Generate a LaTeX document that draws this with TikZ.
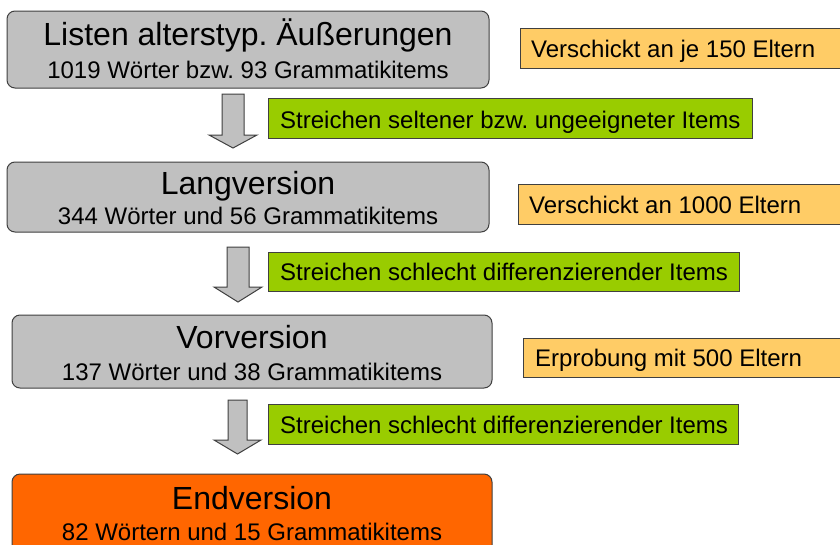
\documentclass[tikz,border=0pt]{standalone}
\usepackage{fontspec}
\setmainfont{Liberation Sans}
\frenchspacing
\definecolor{boxgray}{HTML}{C0C0C0}
\definecolor{edgegray}{HTML}{404040}
\definecolor{noteorange}{HTML}{FFCC66}
\definecolor{stepgreen}{HTML}{99CC00}
\definecolor{endorange}{HTML}{FF6600}
\begin{document}
\begin{tikzpicture}[x=1pt,y=-1pt,
  stagebox/.style={draw=edgegray,line width=1pt,rounded corners=8pt,fill=boxgray,inner sep=0pt},
  endbox/.style={stagebox,fill=endorange},
  notebox/.style={draw=edgegray,line width=1pt,fill=noteorange,inner sep=0pt},
  cutbox/.style={draw=edgegray,line width=1pt,fill=stepgreen,inner sep=0pt},
  bigtxt/.style={inner sep=0pt,anchor=base,font=\fontsize{32}{38}\selectfont},
  smalltxt/.style={inner sep=0pt,anchor=base,font=\fontsize{24}{29}\selectfont},
  notetxt/.style={inner sep=0pt,anchor=base west,font=\fontsize{24}{29}\selectfont},
  blockarrow/.style={draw=edgegray,line width=1pt,fill=boxgray,line join=miter}]
\clip (0,0) rectangle (840,544);
\fill[white] (0,0) rectangle (840,544);

% stage boxes
\node[stagebox,minimum width=482pt,minimum height=77pt] (b1) at (248,49.5) {};
\node[bigtxt] (b1t) at (248,45) {Listen alterstyp. Äußerungen};
\node[smalltxt] (b1s) at (248,78) {1019 Wörter bzw. 93 Grammatikitems};

\node[stagebox,minimum width=482pt,minimum height=70pt] (b2) at (248,197) {};
\node[bigtxt] (b2t) at (248,194) {Langversion};
\node[smalltxt] (b2s) at (248,224) {344 Wörter und 56 Grammatikitems};

\node[stagebox,minimum width=480pt,minimum height=73pt] (b3) at (252,351.5) {};
\node[bigtxt] (b3t) at (252,348) {Vorversion};
\node[smalltxt] (b3s) at (252,380) {137 Wörter und 38 Grammatikitems};

\node[endbox,minimum width=480pt,minimum height=90pt] (b4) at (252,519) {};
\node[bigtxt] (b4t) at (252,509) {Endversion};
\node[smalltxt] (b4s) at (252,540) {82 Wörtern und 15 Grammatikitems};

% note boxes (orange)
\node[notebox,minimum width=330pt,minimum height=40pt,anchor=north west] (o1) at (520,28) {};
\node[notetxt] (o1t) at (531,57.7) {Verschickt an je 150 Eltern};
\node[notebox,minimum width=332pt,minimum height=40pt,anchor=north west] (o2) at (518,184) {};
\node[notetxt] (o2t) at (529,213) {Verschickt an 1000 Eltern};
\node[notebox,minimum width=327pt,minimum height=39pt,anchor=north west] (o3) at (523,338) {};
\node[notetxt] (o3t) at (535,366.5) {Erprobung mit 500 Eltern};

% cut boxes (green)
\node[cutbox,minimum width=484pt,minimum height=40pt,anchor=north west] (g1) at (268,98) {};
\node[notetxt] (g1t) at (280,128) {Streichen seltener bzw. ungeeigneter Items};
\node[cutbox,minimum width=471pt,minimum height=39pt,anchor=north west] (g2) at (268,252) {};
\node[notetxt] (g2t) at (280,280.5) {Streichen schlecht differenzierender Items};
\node[cutbox,minimum width=470pt,minimum height=40pt,anchor=north west] (g3) at (268,404) {};
\node[notetxt] (g3t) at (280,433) {Streichen schlecht differenzierender Items};

% block arrows
\draw[blockarrow] (222,94) -- (244,94) -- (244,135) -- (257,135) -- (233,148) -- (209,135) -- (222,135) -- cycle;
\draw[blockarrow] (227,247) -- (249,247) -- (249,287) -- (262,287) -- (238,302) -- (214,287) -- (227,287) -- cycle;
\draw[blockarrow] (228,400) -- (247,400) -- (247,440) -- (261,440) -- (237.5,454) -- (214,440) -- (228,440) -- cycle;
\end{tikzpicture}
\end{document}
